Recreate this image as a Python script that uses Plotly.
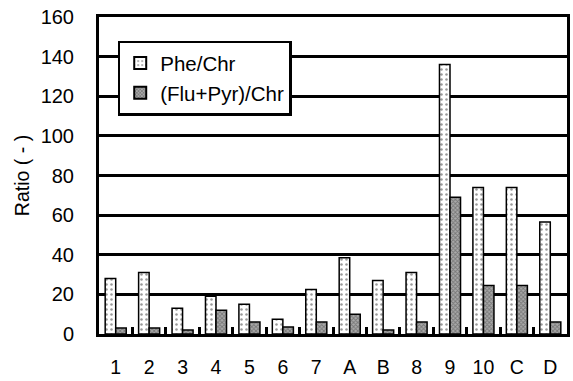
import plotly.graph_objects as go

categories = ["1", "2", "3", "4", "5", "6", "7", "A", "B", "8", "9", "10", "C", "D"]
phe_chr = [28, 31, 13, 19, 15, 7.5, 22.5, 38.5, 27, 31, 136, 74, 74, 56.5]
flu_pyr_chr = [3, 3, 2, 12, 6, 3.5, 6, 10, 2, 6, 69, 24.5, 24.5, 6]
y_ticks = [0, 20, 40, 60, 80, 100, 120, 140, 160]

font = "Liberation Sans, Arial, sans-serif"

fig = go.Figure()
fig.add_trace(go.Bar(
    x=categories, y=phe_chr, name="Phe/Chr",
    marker=dict(color="white", line=dict(color="black", width=1.5),
                pattern=dict(shape=".", fgcolor="#333", bgcolor="white",
                             size=5, solidity=0.2)),
))
fig.add_trace(go.Bar(
    x=categories, y=flu_pyr_chr, name="(Flu+Pyr)/Chr",
    marker=dict(color="#888", line=dict(color="black", width=1.5),
                pattern=dict(shape="x", fgcolor="#444", bgcolor="#aaa",
                             size=3, solidity=0.5)),
))

fig.update_layout(
    width=573, height=381,
    margin=dict(l=99, r=3, t=17, b=45),
    paper_bgcolor="white", plot_bgcolor="white",
    barmode="group", bargap=0.37, bargroupgap=0,
    font=dict(family=font, size=20, color="black"),
    showlegend=True,
    legend=dict(x=0.04, y=0.925, xanchor="left", yanchor="top",
                bgcolor="white", bordercolor="black", borderwidth=2.5,
                font=dict(size=20.5), itemsizing="constant",
                itemwidth=30, tracegroupgap=0, entrywidth=148),
    xaxis=dict(
        type="category", showline=True, linecolor="black", linewidth=3,
        mirror=True, ticks="inside", tickson="boundaries", ticklen=7,
        tickwidth=3, tickcolor="black", showgrid=False,
        tickfont=dict(size=19.5), ticklabelstandoff=14,
    ),
    yaxis=dict(
        range=[0, 160], tickvals=y_ticks, showline=True, linecolor="black",
        linewidth=3, mirror=True, showgrid=True, gridcolor="black",
        gridwidth=2.5, zeroline=False, ticks="", tickfont=dict(size=20),
        ticklabelstandoff=18,
        title=dict(text="Ratio ( - )", font=dict(size=19.5), standoff=6),
    ),
)

fig.write_html("out.html")
